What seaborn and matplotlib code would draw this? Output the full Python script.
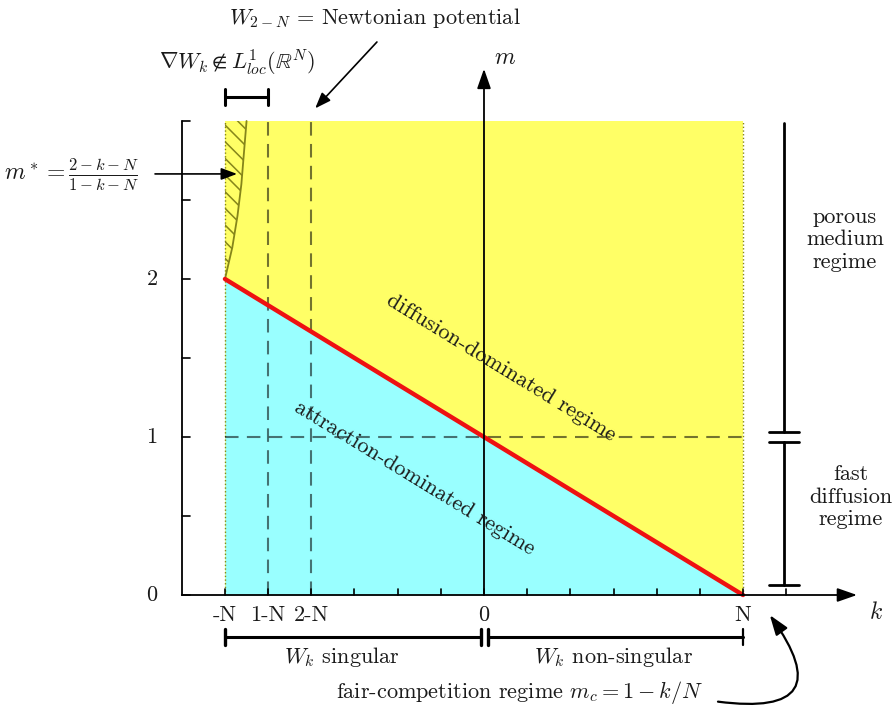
import matplotlib
matplotlib.use("Agg")
import matplotlib.pyplot as plt
import seaborn as sns
import numpy as np

# ---- data (N = 6 units) ----
N = 6
xtick_pos = [-6, -5, -4, 0, 6]
xtick_lab = ["-N", "1-N", "2-N", "0", "N"]
ytick_pos = [0, 1, 2]
ytick_lab = ["0", "1", "2"]
minor_x = [-6, -5, -4, -3, -2, -1, 0, 1, 2, 3, 4, 5, 6, 7]
minor_y = [0, 0.5, 1, 1.5, 2, 2.5, 3]
# fair-competition line m_c = 1 - k/N
line_k = [-6, 6]
line_m = [2, 0]
# m* curve
curve_k = [-6.0, -5.83, -5.71, -5.62, -5.56, -5.5]
curve_m = [2.0, 2.2, 2.4, 2.6, 2.8, 3.0]
m_top = 3.0

sns.set_theme(style="white")
plt.rcParams["font.family"] = ["cmr10"]
plt.rcParams["mathtext.fontset"] = "cm"
plt.rcParams["axes.unicode_minus"] = False
plt.rcParams["axes.formatter.use_mathtext"] = True
plt.rcParams["hatch.linewidth"] = 1.1

fig = plt.figure(figsize=(8.93, 7.09), dpi=100)
ax = fig.add_axes([0, 0, 1, 1])
ax.set_xlim(-11.211, 9.474)
ax.set_ylim(-0.7215, 3.7658)
ax.axis("off")

YEL = "#FFFF66"
CYA = "#99FFFF"
OLV = "#85851A"
FS = 16
TXT = "#1a1a1a"

# regions
ax.fill_between([-6, 6], [0, 0], [m_top, m_top], color=YEL, lw=0, zorder=1)
ax.fill_between(line_k, [0, 0], line_m, color=CYA, lw=0, zorder=2)
ax.fill_betweenx(curve_m, [-6] * len(curve_m), curve_k, facecolor="none",
                 edgecolor=OLV, hatch="\\\\", lw=0, zorder=3)
sns.lineplot(x=curve_k, y=curve_m, color=OLV, lw=1.3, ax=ax, sort=False,
             estimator=None, zorder=4)

# dotted boundaries
for xv in [-6, 6]:
    ax.plot([xv, xv], [0, m_top], color=OLV, lw=1.0, ls=":", zorder=3)

# dashed guide lines
for xv in [-5, -4]:
    ax.plot([xv, xv], [0, m_top], color="black", alpha=0.55, lw=1.5,
            dashes=(6.5, 4), zorder=4)
ax.plot([-6, 6], [1, 1], color="black", alpha=0.55, lw=1.5, dashes=(6.5, 4), zorder=4)

# red line
sns.lineplot(x=line_k, y=line_m, color="#EE1111", lw=3.2, ax=ax, zorder=6,
             estimator=None)

# axes
ax.plot([-7, -7], [0, m_top], color="black", lw=1.3, zorder=5)
for yv in minor_y:
    ax.plot([-7, -6.82], [yv, yv], color="black", lw=1.2, zorder=5)
ax.annotate("", xy=(8.64, 0), xytext=(-7, 0),
            arrowprops=dict(arrowstyle="-|>,head_length=1.0,head_width=0.35",
                            color="black", lw=1.3, shrinkA=0, shrinkB=0), zorder=7)
ax.annotate("", xy=(0, 3.33), xytext=(0, 0),
            arrowprops=dict(arrowstyle="-|>,head_length=1.0,head_width=0.35",
                            color="black", lw=1.3, shrinkA=0, shrinkB=0), zorder=7)
for xv in minor_x:
    ax.plot([xv, xv], [0, 0.035], color="black", lw=1.2, zorder=7)

for p, l in zip(xtick_pos, xtick_lab):
    ax.text(p, -0.127, l, ha="center", va="center", fontsize=FS, color=TXT)
for p, l in zip(ytick_pos, ytick_lab):
    ax.text(-7.69, p, l, ha="center", va="center", fontsize=FS, color=TXT)
ax.text(9.08, -0.114, "$k$", ha="center", va="center", fontsize=FS + 1, color=TXT)
ax.text(0.49, 3.40, "$m$", ha="center", va="center", fontsize=FS + 1, color=TXT)

# diagonal labels
ang = -31.4
ax.text(0.40, 1.44, "diffusion-dominated regime", rotation=ang,
        rotation_mode="anchor", ha="center", va="center", fontsize=FS,
        color=TXT, zorder=8)
ax.text(-1.61, 0.74, "attraction-dominated regime", rotation=ang,
        rotation_mode="anchor", ha="center", va="center", fontsize=FS,
        color=TXT, zorder=8)

# bottom brackets
by = -0.266
cap = 0.05
ax.plot([-6, -0.07], [by, by], color="black", lw=2.2)
ax.plot([0.09, 6], [by, by], color="black", lw=2.2)
for xv in [-6, -0.07, 0.09]:
    ax.plot([xv, xv], [by - cap, by + cap], color="black", lw=2.4)
ax.plot([6, 6], [by - cap, by + cap], color="black", lw=1.6)
ax.text(-3.28, -0.392, "$W_k$ singular", ha="center", va="center", fontsize=FS,
        color=TXT)
ax.text(2.99, -0.392, "$W_k$ non-singular", ha="center", va="center", fontsize=FS,
        color=TXT)
ax.text(0.82, -0.62, "fair-competition regime $m_c = 1 - k/N$", ha="center",
        va="center", fontsize=FS, color=TXT)
ax.annotate("", xy=(6.62, -0.127), xytext=(5.42, -0.675),
            arrowprops=dict(arrowstyle="-|>,head_length=1.0,head_width=0.35",
                            color="black", lw=1.6, shrinkA=0, shrinkB=0,
                            connectionstyle="arc3,rad=1.15"))

# top bracket
ty = 3.152
ax.plot([-6, -5], [ty, ty], color="black", lw=2.2)
for xv in [-6, -5]:
    ax.plot([xv, xv], [ty - cap, ty + cap], color="black", lw=2.2)
ax.text(-5.72, 3.367, r"$\nabla W_k \notin L^1_{loc}(\mathbb{R}^N)$", ha="center",
        va="center", fontsize=FS, color=TXT)
ax.text(-2.52, 3.652, r"$W_{2-N}$ = Newtonian potential", ha="center",
        va="center", fontsize=FS, color=TXT)
ax.annotate("", xy=(-3.91, 3.08), xytext=(-2.48, 3.50),
            arrowprops=dict(arrowstyle="-|>,head_length=0.8,head_width=0.3",
                            color="black", lw=1.2, shrinkA=0, shrinkB=0))
ax.text(-9.55, 2.66, r"$m^* = \frac{2-k-N}{1-k-N}$", ha="center", va="center",
        fontsize=FS + 1, color=TXT)
ax.annotate("", xy=(-5.72, 2.665), xytext=(-7.62, 2.665),
            arrowprops=dict(arrowstyle="-|>,head_length=0.8,head_width=0.3",
                            color="black", lw=1.2, shrinkA=0, shrinkB=0), zorder=8)

# right regime bar
rx = 6.95
ax.plot([rx, rx], [0.063, 0.968], color="black", lw=2)
ax.plot([rx, rx], [1.032, 2.99], color="black", lw=2)
for yv in [0.063, 0.968, 1.032]:
    ax.plot([6.60, 7.30], [yv, yv], color="black", lw=2)
ax.text(8.36, 2.25, "porous\nmedium\nregime", ha="center", va="center",
        fontsize=FS, linespacing=1.2, color=TXT)
ax.text(8.50, 0.62, "fast\ndiffusion\nregime", ha="center", va="center",
        fontsize=FS, linespacing=1.2, color=TXT)

fig.savefig("out.png", dpi=100)
